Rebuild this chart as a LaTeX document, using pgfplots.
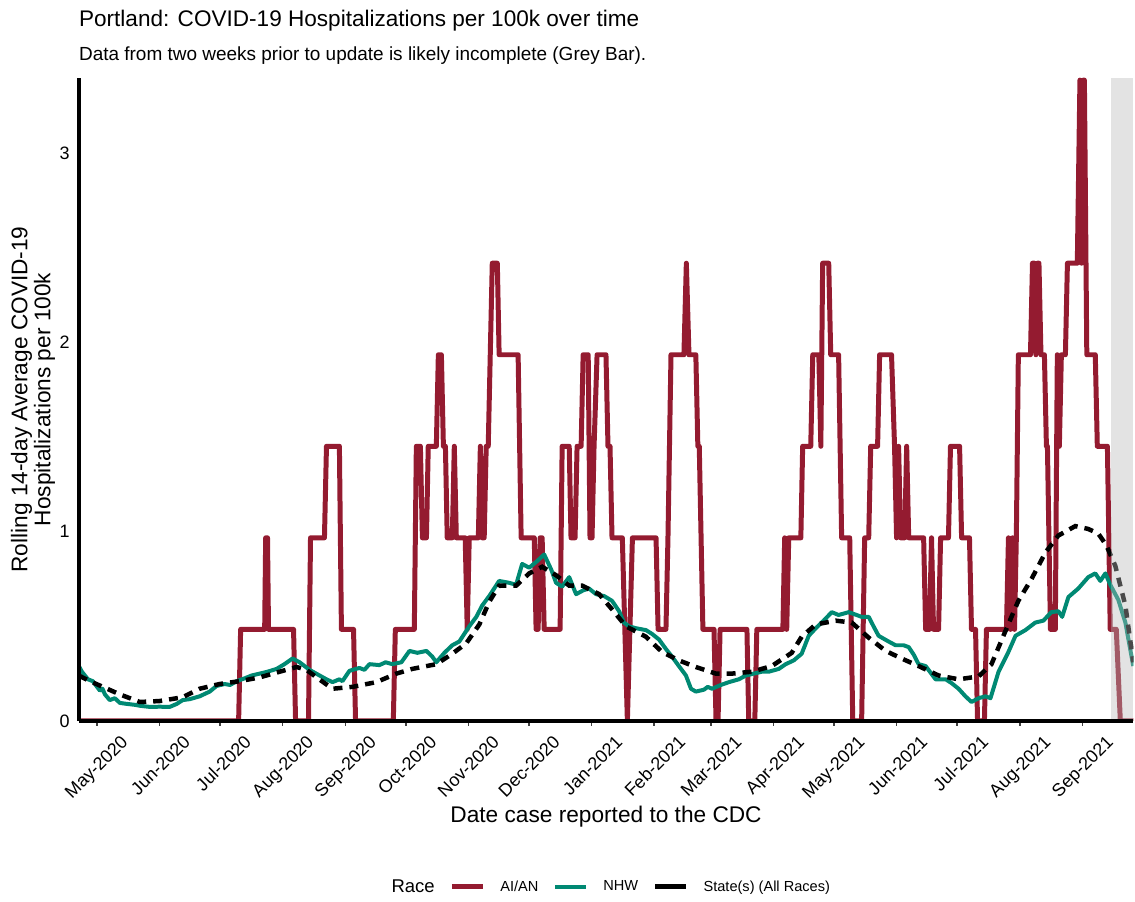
\documentclass[border=0pt]{standalone}
\usepackage{fontspec}
\setmainfont{Liberation Sans}
\usepackage{pgfplots}
\pgfplotsset{compat=1.18}
\definecolor{aian}{RGB}{148,27,48}
\definecolor{nhw}{RGB}{0,137,115}
\definecolor{greybar}{RGB}{185,185,185}
\begin{document}
\begin{tikzpicture}
\begin{axis}[
  name=ax,
  scale only axis,
  width=1056pt, height=644pt,
  xmin=-8.9, xmax=513.2, ymin=0, ymax=3.40,
  axis x line*=bottom, axis y line*=left,
  axis line style={line width=3.5pt, -},
  axis on top=true,
  xtick={0,31,61,92,123,153,184,214,245,276,304,335,365,396,426,457,488},
  xticklabels={May-2020,Jun-2020,Jul-2020,Aug-2020,Sep-2020,Oct-2020,Nov-2020,Dec-2020,Jan-2021,Feb-2021,Mar-2021,Apr-2021,May-2021,Jun-2021,Jul-2021,Aug-2021,Sep-2021},
  ytick={0,1,2,3},
  tick align=outside,
  major tick length=5pt,
  xtick style={line width=1.5pt, color=black!75},
  ytick style={draw=none},
  xticklabel style={font=\fontsize{18}{18}\selectfont, inner sep=0pt, xshift=23pt, yshift=-8pt, rotate=45, anchor=north east},
  yticklabel style={font=\fontsize{18}{18}\selectfont, inner sep=0pt, anchor=east, xshift=-4pt},
  /pgf/number format/assume math mode=true,
  xlabel={Date case reported to the CDC},
  xlabel style={font=\fontsize{22.7}{23}\selectfont, at={(axis description cs:0.5,-0.149)}, anchor=center},
  ylabel={Rolling 14-day Average COVID-19\\Hospitalizations per 100k},
  ylabel style={font=\fontsize{22.7}{23}\selectfont, align=center, at={(axis description cs:-0.0435,0.5)}, anchor=center},
  legend columns=3,
  legend image code/.code={\draw[#1, solid] (0pt,0pt) -- (31pt,0pt);},
  legend style={at={(axis description cs:0.3513,-0.2578)}, anchor=west, draw=none, fill=none, inner sep=0pt,
    font=\fontsize{14.6}{15}\selectfont,
    nodes={inner sep=0pt},
    /tikz/every odd column/.append style={column sep=15pt},
    /tikz/every even column/.append style={column sep=15pt}},
]
\addplot[aian, line width=5pt, line join=round] coordinates {
(-8.9,0) (70.2,0) (71.2,0.484) (83.1,0.484) (83.6,0.968) (84.5,0.968) (85.0,0.484) (97.4,0.484) (98.4,0)
(104.8,0) (105.8,0.968) (112.7,0.968) (113.7,1.452) (120.1,1.452) (121.1,0.484) (127.1,0.484) (128.1,0)
(146.8,0) (147.8,0.484) (157.2,0.484) (158.2,1.452) (160.2,1.452) (161.2,0.968) (163.2,0.968) (164.1,1.452)
(168.1,1.452) (169.1,1.936) (170.6,1.936) (171.6,1.452) (172.6,1.452) (173.5,0.968) (176.0,0.968) (177.0,1.452)
(178.0,0.968) (182.4,0.968) (183.4,0.484) (184.4,0.968) (188.9,0.968) (189.9,1.452) (190.8,0.968) (191.8,0.968)
(192.8,1.452) (193.8,1.452) (194.8,1.936) (195.8,2.42) (198.3,2.42) (199.2,1.936) (208.6,1.936) (210.1,0.968)
(216.6,0.968) (217.5,0.484) (218.5,0.484) (219.5,0.968) (220.5,0.968) (221.5,0.484) (229.4,0.484) (230.4,1.452)
(233.9,1.452) (234.8,0.968) (236.8,0.968) (237.8,1.452) (239.8,1.452) (240.8,1.936) (243.3,1.936) (244.2,0.968)
(245.2,0.968) (246.2,1.452) (247.7,1.936) (252.1,1.936) (253.1,1.452) (254.1,1.452) (255.1,0.968) (260.2,0.968)
(262.7,0) (265.2,0.968) (276.9,0.968) (277.9,0.484) (281.8,0.484) (282.8,0.968) (284.3,1.936) (290.7,1.936)
(291.9,2.42) (293.2,1.936) (296.6,1.936) (297.6,1.452) (298.3,1.452) (300.1,0.484) (305.6,0.484) (306.6,0)
(307.6,0) (308.6,0.484) (321.9,0.484) (322.8,0) (325.8,0) (326.8,0.484) (339.7,0.484) (340.6,0.968)
(341.6,0.484) (342.6,0.968) (348.6,0.968) (349.5,1.452) (353.5,1.452) (354.5,1.936) (357.5,1.936) (358.5,1.452)
(359.4,2.42) (362.4,2.42) (363.4,1.936) (367.3,1.936) (368.8,0.968) (372.8,0.968) (374.3,0) (378.7,0)
(380.2,0.968) (382.2,0.968) (383.2,1.452) (386.6,1.452) (387.6,1.936) (393.5,1.936) (395.0,1.452) (396.0,0.968)
(397.0,1.452) (398.0,0.968) (400.0,0.968) (401.0,1.452) (402.0,0.968) (409.4,0.968) (410.4,0.484) (412.3,0.484)
(413.3,0.968) (414.3,0.484) (416.8,0.484) (417.8,0.968) (421.7,0.968) (422.7,1.452) (427.2,1.452) (428.2,0.968)
(432.1,0.968) (433.1,0.484) (435.1,0.484) (436.1,0) (439.5,0) (440.5,0.484) (450.4,0.484) (451.4,0.968)
(452.4,0.484) (453.4,0.968) (454.4,0.484) (455.3,0.968) (456.3,1.936) (462.3,1.936) (463.3,2.42) (464.3,2.42)
(465.0,1.936) (465.7,2.42) (466.5,2.42) (467.5,1.936) (469.2,1.936) (470.2,1.452) (470.7,1.452) (472.2,0.484)
(474.6,0.484) (475.6,1.936) (476.6,1.452) (477.6,1.936) (479.6,1.936) (480.6,2.42) (485.5,2.42) (486.8,3.388)
(487.6,2.42) (488.4,3.388) (489.0,3.388) (490.2,1.936) (494.4,1.936) (495.4,1.452) (500.4,1.452) (501.8,0.484)
(504.8,0.484) (506.8,0) (513.2,0)
};
\addlegendentry{AI/AN}
\addplot[nhw, line width=4pt, line join=round] coordinates {
(-8.9,0.29) (-7.4,0.26) (-4.4,0.22) (-2.0,0.21) (1.5,0.16) (2.8,0.17) (4.0,0.14) (6.4,0.11) (8.9,0.12) (11.4,0.095)
(14.8,0.09) (18.8,0.085) (21.3,0.08) (26.2,0.074) (31.1,0.075) (36.1,0.074) (39.6,0.09) (42.5,0.11) (46.0,0.115)
(50.9,0.13) (55.9,0.155) (59.3,0.185) (63.3,0.195) (66.0,0.19) (69.2,0.21) (73.2,0.225) (76.6,0.24) (80.6,0.25) (84.5,0.26)
(89.0,0.275) (92.9,0.30) (96.9,0.33) (100.4,0.31) (105.3,0.27) (110.3,0.24) (113.7,0.22) (116.7,0.205) (120.1,0.22)
(121.6,0.21) (125.1,0.265) (130.0,0.28) (132.5,0.27) (135.0,0.30) (139.9,0.295) (143.0,0.31) (146.3,0.30) (150.8,0.31) (154.8,0.37)
(158.7,0.36) (163.2,0.37) (166.1,0.34) (168.1,0.31) (172.1,0.36) (176.0,0.40) (179.5,0.42) (184.4,0.50)
(187.9,0.55) (190.8,0.61) (194.3,0.66) (199.2,0.74) (204.2,0.73) (207.6,0.72) (210.6,0.83) (214.1,0.81)
(217.5,0.84) (221.5,0.88) (225.0,0.80) (227.4,0.73) (230.4,0.71) (233.9,0.76) (237.3,0.67) (240.8,0.69)
(243.7,0.70) (247.2,0.67) (251.2,0.66) (255.1,0.635) (258.6,0.58) (261.0,0.52) (263.5,0.50) (267.0,0.49)
(271.9,0.48) (274.9,0.46) (278.4,0.43) (281.8,0.38) (284.8,0.34) (288.2,0.29) (291.7,0.24) (294.2,0.17)
(296.6,0.155) (300.6,0.165) (302.5,0.18) (304.6,0.17) (309.0,0.19) (313.0,0.205) (317.9,0.22) (321.4,0.24) (325.3,0.25)
(329.3,0.26) (332.7,0.26) (337.7,0.275) (341.1,0.30) (345.1,0.32) (349.0,0.355) (352.5,0.45) (356.0,0.49)
(359.9,0.53) (363.9,0.575) (367.3,0.56) (372.3,0.575) (376.2,0.56) (378.7,0.55) (382.2,0.55) (384.6,0.50)
(387.1,0.45) (392.0,0.42) (395.5,0.40) (399.5,0.40) (402.0,0.39) (404.5,0.35) (406.9,0.30) (410.4,0.29)
(415.3,0.22) (420.3,0.22) (423.2,0.20) (426.7,0.17) (430.1,0.13) (433.1,0.10) (436.6,0.12) (440.0,0.13)
(442.5,0.12) (446.5,0.26) (451.4,0.365) (454.9,0.45) (459.8,0.48) (464.7,0.52) (468.7,0.53) (472.6,0.575)
(476.1,0.58) (478.0,0.55) (481.1,0.655) (486.0,0.70) (490.9,0.76) (494.4,0.78) (496.9,0.74) (499.4,0.78) (501.8,0.72)
(505.8,0.64) (509.3,0.52) (513.2,0.29)
};
\addlegendentry{NHW}
\addplot[black, line width=4.5pt, dash pattern=on 9pt off 7pt] coordinates {
(-8.9,0.24) (-3.5,0.21) (3.0,0.18) (11.4,0.14) (21.3,0.10) (31.1,0.105) (42.5,0.125) (50.9,0.17) (60.8,0.195)
(70.7,0.21) (80.6,0.23) (90.5,0.26) (98.9,0.285) (103.8,0.27) (108.8,0.23) (116.7,0.17) (126.6,0.18) (138.4,0.205)
(148.3,0.25) (156.2,0.275) (168.1,0.30) (176.0,0.355) (182.9,0.41) (189.4,0.51) (194.3,0.63) (199.2,0.715)
(207.6,0.715) (214.1,0.78) (220.5,0.815) (227.4,0.77) (233.9,0.715) (240.3,0.715) (248.7,0.67) (255.1,0.59)
(262.0,0.50) (271.9,0.445) (279.8,0.365) (288.2,0.32) (296.6,0.285) (306.5,0.25) (314.4,0.25) (324.3,0.26)
(334.2,0.29) (344.1,0.36) (349.0,0.445) (356.0,0.51) (365.9,0.53) (373.8,0.52) (382.2,0.44) (390.6,0.37)
(398.5,0.33) (406.9,0.29) (416.8,0.24) (426.7,0.22) (436.6,0.235) (443.0,0.30) (449.9,0.475) (456.3,0.635)
(462.8,0.75) (469.7,0.89) (476.1,0.98) (484.5,1.03) (490.9,1.015) (495.9,0.99) (499.8,0.93) (504.3,0.82)
(509.3,0.61) (513.2,0.31)
};
\addlegendentry{State(s) (All Races)}
\addplot[forget plot, draw=none, fill=greybar, fill opacity=0.4] coordinates {(502.4,3.4) (513.2,3.4)} \closedcycle;
\end{axis}
\node[anchor=base west, inner sep=0pt, font=\fontsize{22.6}{23}\selectfont] at ([yshift=51pt]ax.north west) {Portland: COVID-19 Hospitalizations per 100k over time};
\node[anchor=base west, inner sep=0pt, font=\fontsize{19}{19}\selectfont] at ([yshift=17pt]ax.north west) {Data from two weeks prior to update is likely incomplete (Grey Bar).};
\node[anchor=west, inner sep=0pt, font=\fontsize{18.5}{18.5}\selectfont] at ([xshift=313pt,yshift=-166pt]ax.south west) {Race};
\path[use as bounding box] ([xshift=-79pt,yshift=-181pt]ax.south west) rectangle ([yshift=78pt]ax.north east);
\end{tikzpicture}
\end{document}
